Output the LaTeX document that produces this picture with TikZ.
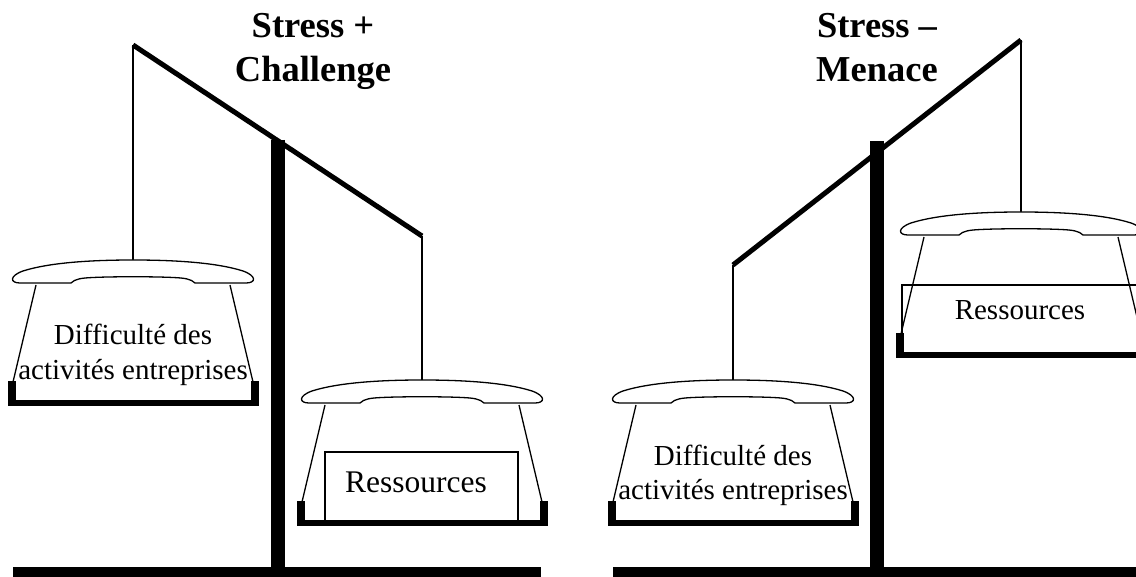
\documentclass[tikz,border=0pt]{standalone}
\usepackage{fontspec}
\setmainfont{Liberation Serif}
\begin{document}
\begin{tikzpicture}[x=1pt,y=-1pt,
  beam/.style={line width=5pt},
  cord/.style={line width=1.4pt},
  pole/.style={line width=14pt},
  baseline/.style={line width=11pt},
  rim/.style={line width=1.3pt, fill=white},
  side/.style={line width=1.3pt},
  barline/.style={line width=6pt},
  box/.style={line width=1.3pt},
  lbl/.style={font=\fontsize{29}{34}\selectfont, inner sep=0pt, anchor=base},
  res/.style={font=\fontsize{31.5}{36}\selectfont, inner sep=0pt, anchor=base},
  ttl/.style={font=\bfseries\fontsize{36.5}{44}\selectfont, inner sep=0pt, anchor=base},
  pan/.pic={
    \draw[side] (-97,25) -- (-120,122);
    \draw[side] (97,25) -- (120,122);
    \draw[rim] (-62,23) -- (-113,23) .. controls (-123,23) and (-124,16) .. (-110,11)
      .. controls (-85,3) and (-45,0) .. (0,0)
      .. controls (45,0) and (85,3) .. (110,11)
      .. controls (124,16) and (123,23) .. (113,23) -- (62,23)
      .. controls (58,19) and (52,18) .. (40,17.5)
      .. controls (20,16.5) and (-20,16.5) .. (-40,17.5)
      .. controls (-52,18) and (-58,19) .. cycle;
    \draw[barline] (-121,143) -- (122,143);
    \fill (-125,121) rectangle (-117,146);
    \fill (118,121) rectangle (126,146);
  }]
\useasboundingbox (0,0) rectangle (1136,577);
\clip (0,0) rectangle (1136,577);

% ---------- left scale: Stress + Challenge ----------
\coordinate (LbeamA) at (133,45);
\coordinate (LbeamB) at (422,236);
\coordinate (LpanA) at (133,260);
\coordinate (LpanB) at (422,380);
\draw[baseline] (13,572) -- (541,572);
\draw[pole] (278,140) -- (278,572);
\draw[beam] (LbeamA) -- (LbeamB);
\draw[cord] (LbeamA) -- (LpanA);
\draw[cord] (LbeamB) -- (LpanB);
\draw[box] (325,452) rectangle (518,524);
\pic at (LpanA) {pan};
\pic at (LpanB) {pan};
\node[lbl] (ld1) at (133,345) {Difficulté des};
\node[lbl] (ld2) at (133,380) {activités entreprises};
\node[res] (lr) at (416,492) {Ressources};
\node[ttl] (lt1) at (313,38) {Stress +};
\node[ttl] (lt2) at (313,82) {Challenge};

% ---------- right scale: Stress - Menace ----------
\coordinate (RbeamA) at (733,265);
\coordinate (RbeamB) at (1021,40);
\coordinate (RpanA) at (733,380);
\coordinate (RpanB) at (1021,212);
\draw[baseline] (613,572) -- (1140,572);
\draw[pole] (877,141) -- (877,572);
\draw[beam] (RbeamA) -- (RbeamB);
\draw[cord] (RbeamA) -- (RpanA);
\draw[cord] (RbeamB) -- (RpanB);
\draw[box] (902,285) rectangle (1142,356);
\pic at (RpanA) {pan};
\pic at (RpanB) {pan};
\node[lbl] (rd1) at (733,465) {Difficulté des};
\node[lbl] (rd2) at (733,499) {activités entreprises};
\node[res, font=\fontsize{29}{34}\selectfont] (rr) at (1020,320) {Ressources};
\node[ttl] (rt1) at (877,38) {Stress –};
\node[ttl] (rt2) at (877,82) {Menace};
\end{tikzpicture}
\end{document}
